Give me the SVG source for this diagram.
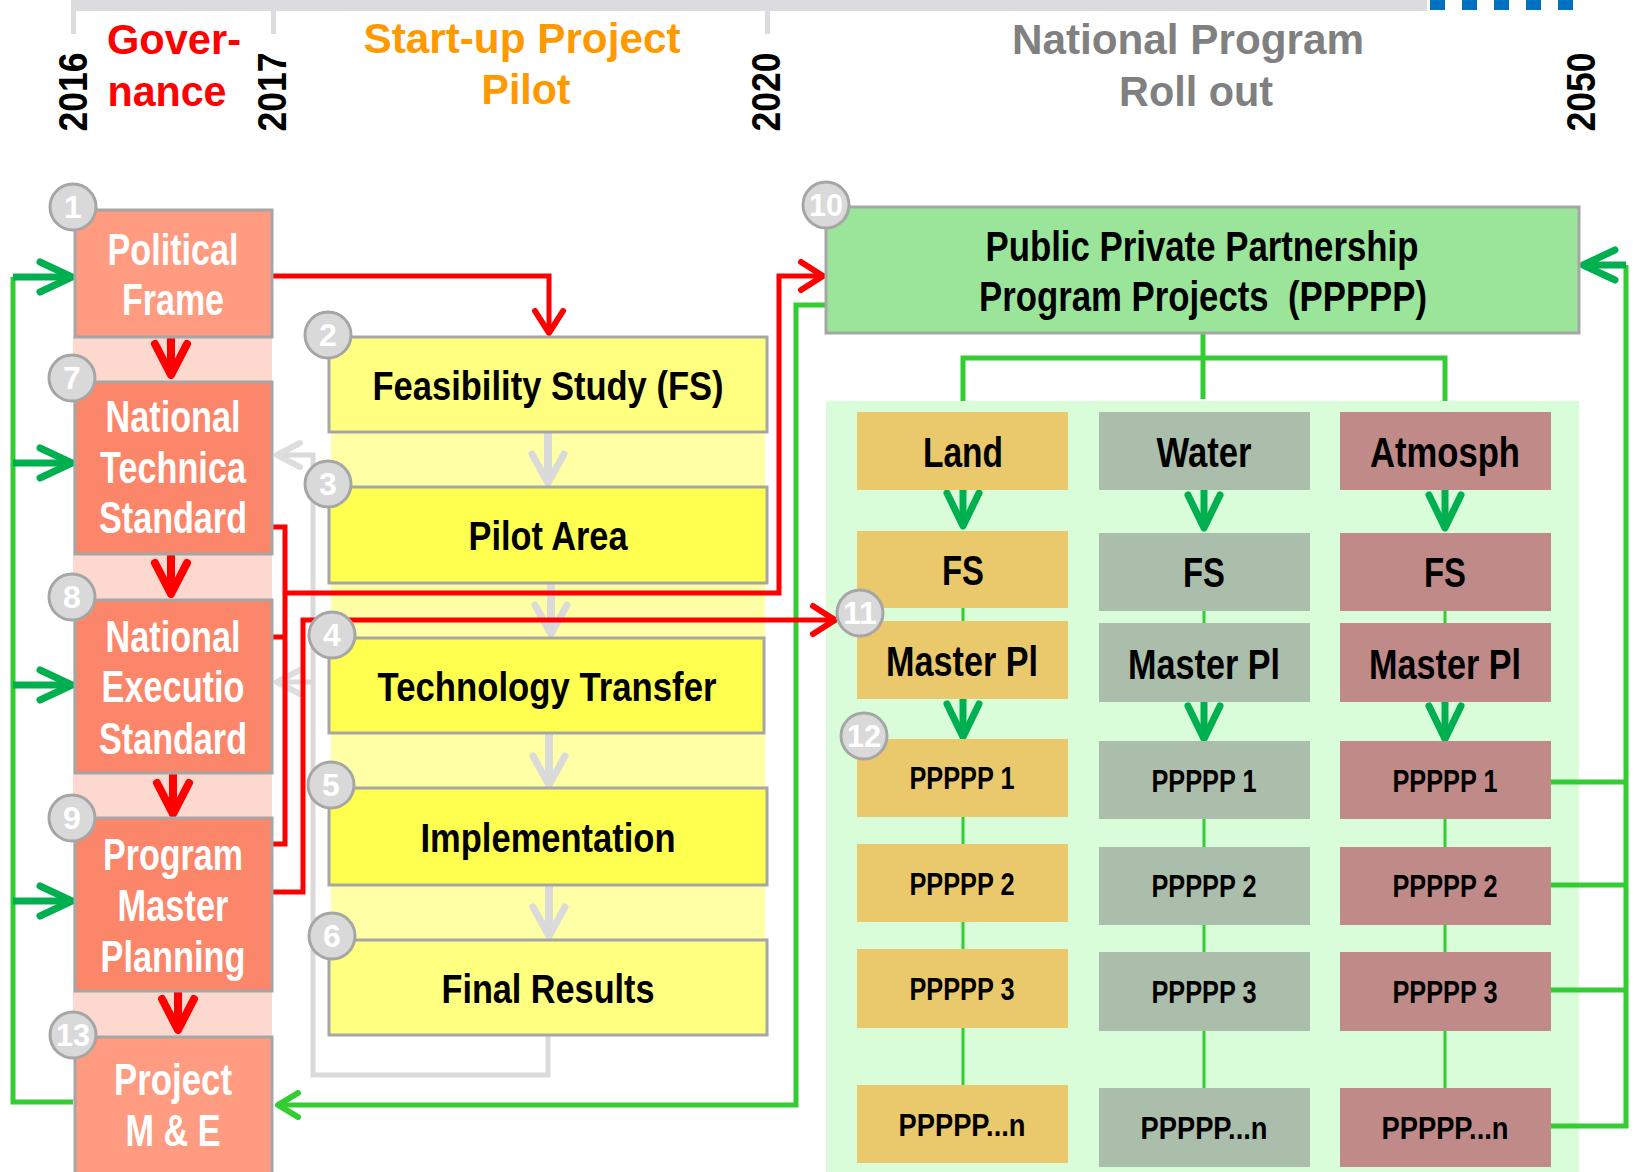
<svg xmlns="http://www.w3.org/2000/svg" width="1633" height="1172" viewBox="0 0 1633 1172">
<style>
text{font-family:"Liberation Sans Narrow","Liberation Sans",Arial,sans-serif;font-weight:bold;text-anchor:middle}
.yr{font-family:"Liberation Sans",Arial,sans-serif;font-size:40px;fill:#000}
.hd{font-size:42px}
.lt{font-size:44px;fill:#fff}
.mt{font-size:41px;fill:#000}
.rt{font-size:42px;fill:#000}
.pt{font-size:31px;fill:#000}
.bd{fill:#D9D9D9;stroke:#A6A6A6;stroke-width:3}
.bt{font-size:32px;fill:#fff}
.box{stroke:#A6A6A6;stroke-width:3}
.gov1{fill:#FE9B80}
.gov2{fill:#FB866A}
.yl{fill:#FFFF80}
.yb{fill:#FFFF50}
.land{fill:#E9C96C}
.water{fill:#ABBEAB}
.atm{fill:#BF8A88}
.red{fill:none;stroke:#FF0000;stroke-width:5}
.redb{fill:none;stroke:#FF0000;stroke-width:8}
.grn{fill:none;stroke:#33CC33;stroke-width:5}
.grnt{fill:none;stroke:#33CC33;stroke-width:3}
.dgr{fill:none;stroke:#00B050;stroke-width:7}
.gry{fill:none;stroke:#DADADA;stroke-width:5}
.gryb{fill:none;stroke:#DADADA;stroke-width:8}
</style>
<defs>
<marker id="mRedBig" markerUnits="userSpaceOnUse" markerWidth="60" markerHeight="60" viewBox="-50 -30 60 60" refX="0" refY="0" orient="auto" overflow="visible"><path d="M-31,-16 L0,0 L-31,16" fill="none" stroke="#FF0000" stroke-width="8" stroke-linecap="round" stroke-linejoin="round"/></marker>
<marker id="mRed" markerUnits="userSpaceOnUse" markerWidth="60" markerHeight="60" viewBox="-50 -30 60 60" refX="0" refY="0" orient="auto" overflow="visible"><path d="M-22,-14 L0,0 L-22,14" fill="none" stroke="#FF0000" stroke-width="6" stroke-linecap="round" stroke-linejoin="round"/></marker>
<marker id="mGreenL" markerUnits="userSpaceOnUse" markerWidth="60" markerHeight="60" viewBox="-50 -30 60 60" refX="0" refY="0" orient="auto" overflow="visible"><path d="M-32,-15 L0,0 L-32,15" fill="none" stroke="#00B050" stroke-width="7" stroke-linecap="round" stroke-linejoin="round"/></marker>
<marker id="mGreenC" markerUnits="userSpaceOnUse" markerWidth="60" markerHeight="60" viewBox="-50 -30 60 60" refX="0" refY="0" orient="auto" overflow="visible"><path d="M-33,-16 L0,0 L-33,16" fill="none" stroke="#00B050" stroke-width="7" stroke-linecap="round" stroke-linejoin="round"/></marker>
<marker id="mGreenM" markerUnits="userSpaceOnUse" markerWidth="60" markerHeight="60" viewBox="-50 -30 60 60" refX="0" refY="0" orient="auto" overflow="visible"><path d="M-20,-12 L0,0 L-20,12" fill="none" stroke="#33CC33" stroke-width="6" stroke-linecap="round" stroke-linejoin="round"/></marker>
<marker id="mGray" markerUnits="userSpaceOnUse" markerWidth="60" markerHeight="60" viewBox="-50 -30 60 60" refX="0" refY="0" orient="auto" overflow="visible"><path d="M-29,-16 L0,0 L-29,16" fill="none" stroke="#DADADA" stroke-width="7" stroke-linecap="round" stroke-linejoin="round"/></marker>
<marker id="mGraySm" markerUnits="userSpaceOnUse" markerWidth="60" markerHeight="60" viewBox="-50 -30 60 60" refX="0" refY="0" orient="auto" overflow="visible"><path d="M-23,-12 L0,0 L-23,12" fill="none" stroke="#DDDDDD" stroke-width="6" stroke-linecap="round" stroke-linejoin="round"/></marker>
</defs>
<rect width="1633" height="1172" fill="#FFFFFF"/>
<g id="timeline">
<rect x="71" y="0" width="1356" height="11" fill="#DCDCDE"/>
<rect x="71" y="0" width="5" height="34" fill="#DCDCDE"/>
<rect x="271" y="0" width="5" height="34" fill="#DCDCDE"/>
<rect x="765" y="0" width="5" height="34" fill="#DCDCDE"/>
<g fill="#0070C0"><rect x="1430" y="0" width="15" height="10"/><rect x="1462" y="0" width="15" height="10"/><rect x="1494" y="0" width="15" height="10"/><rect x="1526" y="0" width="15" height="10"/><rect x="1558" y="0" width="15" height="10"/></g>
<text class="yr" transform="translate(87,92) rotate(-90)" textLength="79" lengthAdjust="spacingAndGlyphs">2016</text>
<text class="yr" transform="translate(286,92) rotate(-90)" textLength="79" lengthAdjust="spacingAndGlyphs">2017</text>
<text class="yr" transform="translate(780,92) rotate(-90)" textLength="79" lengthAdjust="spacingAndGlyphs">2020</text>
<text class="yr" transform="translate(1595,92) rotate(-90)" textLength="79" lengthAdjust="spacingAndGlyphs">2050</text>
<text class="hd" x="174" y="54" fill="#FF0000" textLength="134" lengthAdjust="spacingAndGlyphs">Gover-</text>
<text class="hd" x="167" y="106" fill="#FF0000" textLength="119" lengthAdjust="spacingAndGlyphs">nance</text>
<text class="hd" x="522" y="53" fill="#FF9900" textLength="317" lengthAdjust="spacingAndGlyphs">Start-up Project</text>
<text class="hd" x="526" y="104" fill="#FF9900" textLength="89" lengthAdjust="spacingAndGlyphs">Pilot</text>
<text class="hd" x="1188" y="54" fill="#808080" textLength="352" lengthAdjust="spacingAndGlyphs">National Program</text>
<text class="hd" x="1196" y="106" fill="#808080" textLength="154" lengthAdjust="spacingAndGlyphs">Roll out</text>
</g>
<g id="backgrounds">
<rect x="73" y="337" width="199" height="700" fill="#FDD8CF"/>
<rect x="331" y="337" width="434" height="698" fill="#FFFFA6"/>
<rect x="826" y="401" width="753" height="771" fill="#D9FDD9"/>
</g>
<g id="connectors">
<path class="gry" d="M548,1035 V1075 H313 V455 H277" marker-end="url(#mGraySm)"/>
<path class="gry" d="M313,682 H277" marker-end="url(#mGraySm)"/>
<path class="gryb" d="M548,432 V483" marker-end="url(#mGray)"/>
<path class="gryb" d="M551,583 V634" marker-end="url(#mGray)"/>
<path class="gryb" d="M549,733 V785" marker-end="url(#mGray)"/>
<path class="gryb" d="M549,885 V936" marker-end="url(#mGray)"/>
<path class="redb" d="M171,337 V375" marker-end="url(#mRedBig)"/>
<path class="redb" d="M171,554 V594" marker-end="url(#mRedBig)"/>
<path class="redb" d="M173,773 V814" marker-end="url(#mRedBig)"/>
<path class="redb" d="M178,991 V1030" marker-end="url(#mRedBig)"/>
<path class="red" d="M272,276 H549 V333" marker-end="url(#mRed)"/>
<path class="red" d="M272,527 H285 V844 H272 M272,637 H285"/>
<path class="red" d="M285,593 H779 V276 H823" marker-end="url(#mRed)"/>
<path class="grn" d="M826,305 H796 V1105 H278" marker-end="url(#mGreenM)"/>
<path class="red" d="M272,892 H303 V620 H835" marker-end="url(#mRed)"/>
<path class="grn" d="M73,1102 H13 V277"/>
<path class="dgr" d="M13,277 H72" marker-end="url(#mGreenL)"/>
<path class="dgr" d="M13,463 H72" marker-end="url(#mGreenL)"/>
<path class="dgr" d="M13,685 H72" marker-end="url(#mGreenL)"/>
<path class="dgr" d="M13,901 H72" marker-end="url(#mGreenL)"/>
<path class="grn" d="M1203,333 V399 M963,401 V358 H1445 V401"/>
<path class="dgr" d="M963,490 V526" marker-end="url(#mGreenC)"/>
<path class="dgr" d="M1204,490 V528" marker-end="url(#mGreenC)"/>
<path class="dgr" d="M1445,490 V528" marker-end="url(#mGreenC)"/>
<path class="dgr" d="M963,699 V737" marker-end="url(#mGreenC)"/>
<path class="dgr" d="M1204,702 V739" marker-end="url(#mGreenC)"/>
<path class="dgr" d="M1445,702 V739" marker-end="url(#mGreenC)"/>
<path class="grnt" d="M963,608 V621 M963,817 V844 M963,922 V949 M963,1028 V1085"/>
<path class="grnt" d="M1204,611 V623 M1204,819 V847 M1204,925 V952 M1204,1031 V1088"/>
<path class="grnt" d="M1445,611 V623 M1445,819 V847 M1445,925 V952 M1445,1031 V1088"/>
<path class="grn" d="M1551,782 H1626 M1551,885 H1626 M1551,990 H1626 M1551,1126 H1626 V265" stroke-width="6"/>
<path class="dgr" d="M1626,265 H1583" stroke-width="6" marker-end="url(#mGreenL)"/>
</g>
<g id="n1"><rect class="box gov1" x="75" y="210" width="197" height="127"/><text class="lt" x="173" y="265" textLength="131" lengthAdjust="spacingAndGlyphs">Political</text><text class="lt" x="173" y="315" textLength="102" lengthAdjust="spacingAndGlyphs">Frame</text><circle class="bd" cx="73" cy="207" r="23"/><text class="bt" x="73" y="218">1</text></g>
<g id="n7"><rect class="box gov2" x="75" y="382" width="197" height="172"/><text class="lt" x="173" y="432" textLength="135" lengthAdjust="spacingAndGlyphs">National</text><text class="lt" x="173" y="483" textLength="146" lengthAdjust="spacingAndGlyphs">Technica</text><text class="lt" x="173" y="533" textLength="148" lengthAdjust="spacingAndGlyphs">Standard</text><circle class="bd" cx="72" cy="378" r="23"/><text class="bt" x="72" y="389">7</text></g>
<g id="n8"><rect class="box gov2" x="75" y="600" width="197" height="173"/><text class="lt" x="173" y="652" textLength="135" lengthAdjust="spacingAndGlyphs">National</text><text class="lt" x="173" y="702" textLength="143" lengthAdjust="spacingAndGlyphs">Executio</text><text class="lt" x="173" y="754" textLength="148" lengthAdjust="spacingAndGlyphs">Standard</text><circle class="bd" cx="72" cy="597" r="23"/><text class="bt" x="72" y="608">8</text></g>
<g id="n9"><rect class="box gov2" x="75" y="818" width="197" height="173"/><text class="lt" x="173" y="870" textLength="140" lengthAdjust="spacingAndGlyphs">Program</text><text class="lt" x="173" y="921" textLength="111" lengthAdjust="spacingAndGlyphs">Master</text><text class="lt" x="173" y="972" textLength="145" lengthAdjust="spacingAndGlyphs">Planning</text><circle class="bd" cx="72" cy="818" r="23"/><text class="bt" x="72" y="829">9</text></g>
<g id="n13"><rect class="box gov1" x="75" y="1037" width="197" height="140"/><text class="lt" x="173" y="1095" textLength="118" lengthAdjust="spacingAndGlyphs">Project</text><text class="lt" x="173" y="1146" textLength="95" lengthAdjust="spacingAndGlyphs">M &amp; E</text><circle class="bd" cx="73" cy="1035" r="23"/><text class="bt" x="73" y="1046" textLength="34" lengthAdjust="spacingAndGlyphs">13</text></g>
<g id="n2"><rect class="box yl" x="329" y="337" width="438" height="95"/><text class="mt" x="548" y="400" textLength="351" lengthAdjust="spacingAndGlyphs">Feasibility Study (FS)</text><circle class="bd" cx="328" cy="335" r="23"/><text class="bt" x="328" y="346">2</text></g>
<g id="n3"><rect class="box yb" x="329" y="487" width="438" height="96"/><text class="mt" x="548" y="550" textLength="159" lengthAdjust="spacingAndGlyphs">Pilot Area</text><circle class="bd" cx="328" cy="484" r="23"/><text class="bt" x="328" y="495">3</text></g>
<g id="n4"><rect class="box yb" x="329" y="638" width="435" height="95"/><text class="mt" x="547" y="701" textLength="339" lengthAdjust="spacingAndGlyphs">Technology Transfer</text><circle class="bd" cx="332" cy="635" r="23"/><text class="bt" x="332" y="646">4</text></g>
<g id="n5"><rect class="box yb" x="329" y="788" width="438" height="97"/><text class="mt" x="548" y="852" textLength="255" lengthAdjust="spacingAndGlyphs">Implementation</text><circle class="bd" cx="331" cy="785" r="23"/><text class="bt" x="331" y="796">5</text></g>
<g id="n6"><rect class="box yl" x="329" y="940" width="438" height="95"/><text class="mt" x="548" y="1003" textLength="213" lengthAdjust="spacingAndGlyphs">Final Results</text><circle class="bd" cx="332" cy="936" r="23"/><text class="bt" x="332" y="947">6</text></g>
<g id="n10"><rect class="box" x="826" y="207" width="753" height="126" fill="#9AE59A"/><text class="rt" x="1202" y="261" textLength="433" lengthAdjust="spacingAndGlyphs">Public Private Partnership</text><text class="rt" x="1203" y="311" textLength="448" lengthAdjust="spacingAndGlyphs" xml:space="preserve">Program Projects  (PPPPP)</text><circle class="bd" cx="826" cy="205" r="23"/><text class="bt" x="826" y="216" textLength="34" lengthAdjust="spacingAndGlyphs">10</text></g>
<g id="land">
<g id="land-head"><rect class="land" x="857" y="412" width="211" height="78"/><text class="rt" x="963" y="467" textLength="80" lengthAdjust="spacingAndGlyphs">Land</text></g>
<g id="land-fs"><rect class="land" x="857" y="531" width="211" height="77"/><text class="rt" x="963" y="585" textLength="42" lengthAdjust="spacingAndGlyphs">FS</text></g>
<g id="land-mp"><rect class="land" x="857" y="621" width="211" height="78"/><text class="rt" x="962" y="676" textLength="152" lengthAdjust="spacingAndGlyphs">Master Pl</text></g>
<g id="land-p1"><rect class="land" x="857" y="739" width="211" height="78"/><text class="pt" x="962" y="789" textLength="105" lengthAdjust="spacingAndGlyphs">PPPPP 1</text></g>
<g id="land-p2"><rect class="land" x="857" y="844" width="211" height="78"/><text class="pt" x="962" y="895" textLength="105" lengthAdjust="spacingAndGlyphs">PPPPP 2</text></g>
<g id="land-p3"><rect class="land" x="857" y="949" width="211" height="79"/><text class="pt" x="962" y="1000" textLength="105" lengthAdjust="spacingAndGlyphs">PPPPP 3</text></g>
<g id="land-pn"><rect class="land" x="857" y="1085" width="211" height="78"/><text class="pt" x="962" y="1136" textLength="127" lengthAdjust="spacingAndGlyphs">PPPPP...n</text></g>
</g>
<g id="water">
<g id="water-head"><rect class="water" x="1099" y="412" width="211" height="78"/><text class="rt" x="1204" y="467" textLength="95" lengthAdjust="spacingAndGlyphs">Water</text></g>
<g id="water-fs"><rect class="water" x="1099" y="533" width="211" height="78"/><text class="rt" x="1204" y="587" textLength="42" lengthAdjust="spacingAndGlyphs">FS</text></g>
<g id="water-mp"><rect class="water" x="1099" y="623" width="211" height="79"/><text class="rt" x="1204" y="679" textLength="152" lengthAdjust="spacingAndGlyphs">Master Pl</text></g>
<g id="water-p1"><rect class="water" x="1099" y="741" width="211" height="78"/><text class="pt" x="1204" y="792" textLength="105" lengthAdjust="spacingAndGlyphs">PPPPP 1</text></g>
<g id="water-p2"><rect class="water" x="1099" y="847" width="211" height="78"/><text class="pt" x="1204" y="897" textLength="105" lengthAdjust="spacingAndGlyphs">PPPPP 2</text></g>
<g id="water-p3"><rect class="water" x="1099" y="952" width="211" height="79"/><text class="pt" x="1204" y="1003" textLength="105" lengthAdjust="spacingAndGlyphs">PPPPP 3</text></g>
<g id="water-pn"><rect class="water" x="1099" y="1088" width="211" height="79"/><text class="pt" x="1204" y="1139" textLength="127" lengthAdjust="spacingAndGlyphs">PPPPP...n</text></g>
</g>
<g id="atmosph">
<g id="atm-head"><rect class="atm" x="1340" y="412" width="211" height="78"/><text class="rt" x="1445" y="467" textLength="150" lengthAdjust="spacingAndGlyphs">Atmosph</text></g>
<g id="atm-fs"><rect class="atm" x="1340" y="533" width="211" height="78"/><text class="rt" x="1445" y="587" textLength="42" lengthAdjust="spacingAndGlyphs">FS</text></g>
<g id="atm-mp"><rect class="atm" x="1340" y="623" width="211" height="79"/><text class="rt" x="1445" y="679" textLength="152" lengthAdjust="spacingAndGlyphs">Master Pl</text></g>
<g id="atm-p1"><rect class="atm" x="1340" y="741" width="211" height="78"/><text class="pt" x="1445" y="792" textLength="105" lengthAdjust="spacingAndGlyphs">PPPPP 1</text></g>
<g id="atm-p2"><rect class="atm" x="1340" y="847" width="211" height="78"/><text class="pt" x="1445" y="897" textLength="105" lengthAdjust="spacingAndGlyphs">PPPPP 2</text></g>
<g id="atm-p3"><rect class="atm" x="1340" y="952" width="211" height="79"/><text class="pt" x="1445" y="1003" textLength="105" lengthAdjust="spacingAndGlyphs">PPPPP 3</text></g>
<g id="atm-pn"><rect class="atm" x="1340" y="1088" width="211" height="79"/><text class="pt" x="1445" y="1139" textLength="127" lengthAdjust="spacingAndGlyphs">PPPPP...n</text></g>
</g>
<g id="n11"><circle class="bd" cx="860" cy="613" r="23"/><text class="bt" x="860" y="624" textLength="34" lengthAdjust="spacingAndGlyphs">11</text></g>
<g id="n12"><circle class="bd" cx="864" cy="736" r="23"/><text class="bt" x="864" y="747" textLength="34" lengthAdjust="spacingAndGlyphs">12</text></g>
</svg>
